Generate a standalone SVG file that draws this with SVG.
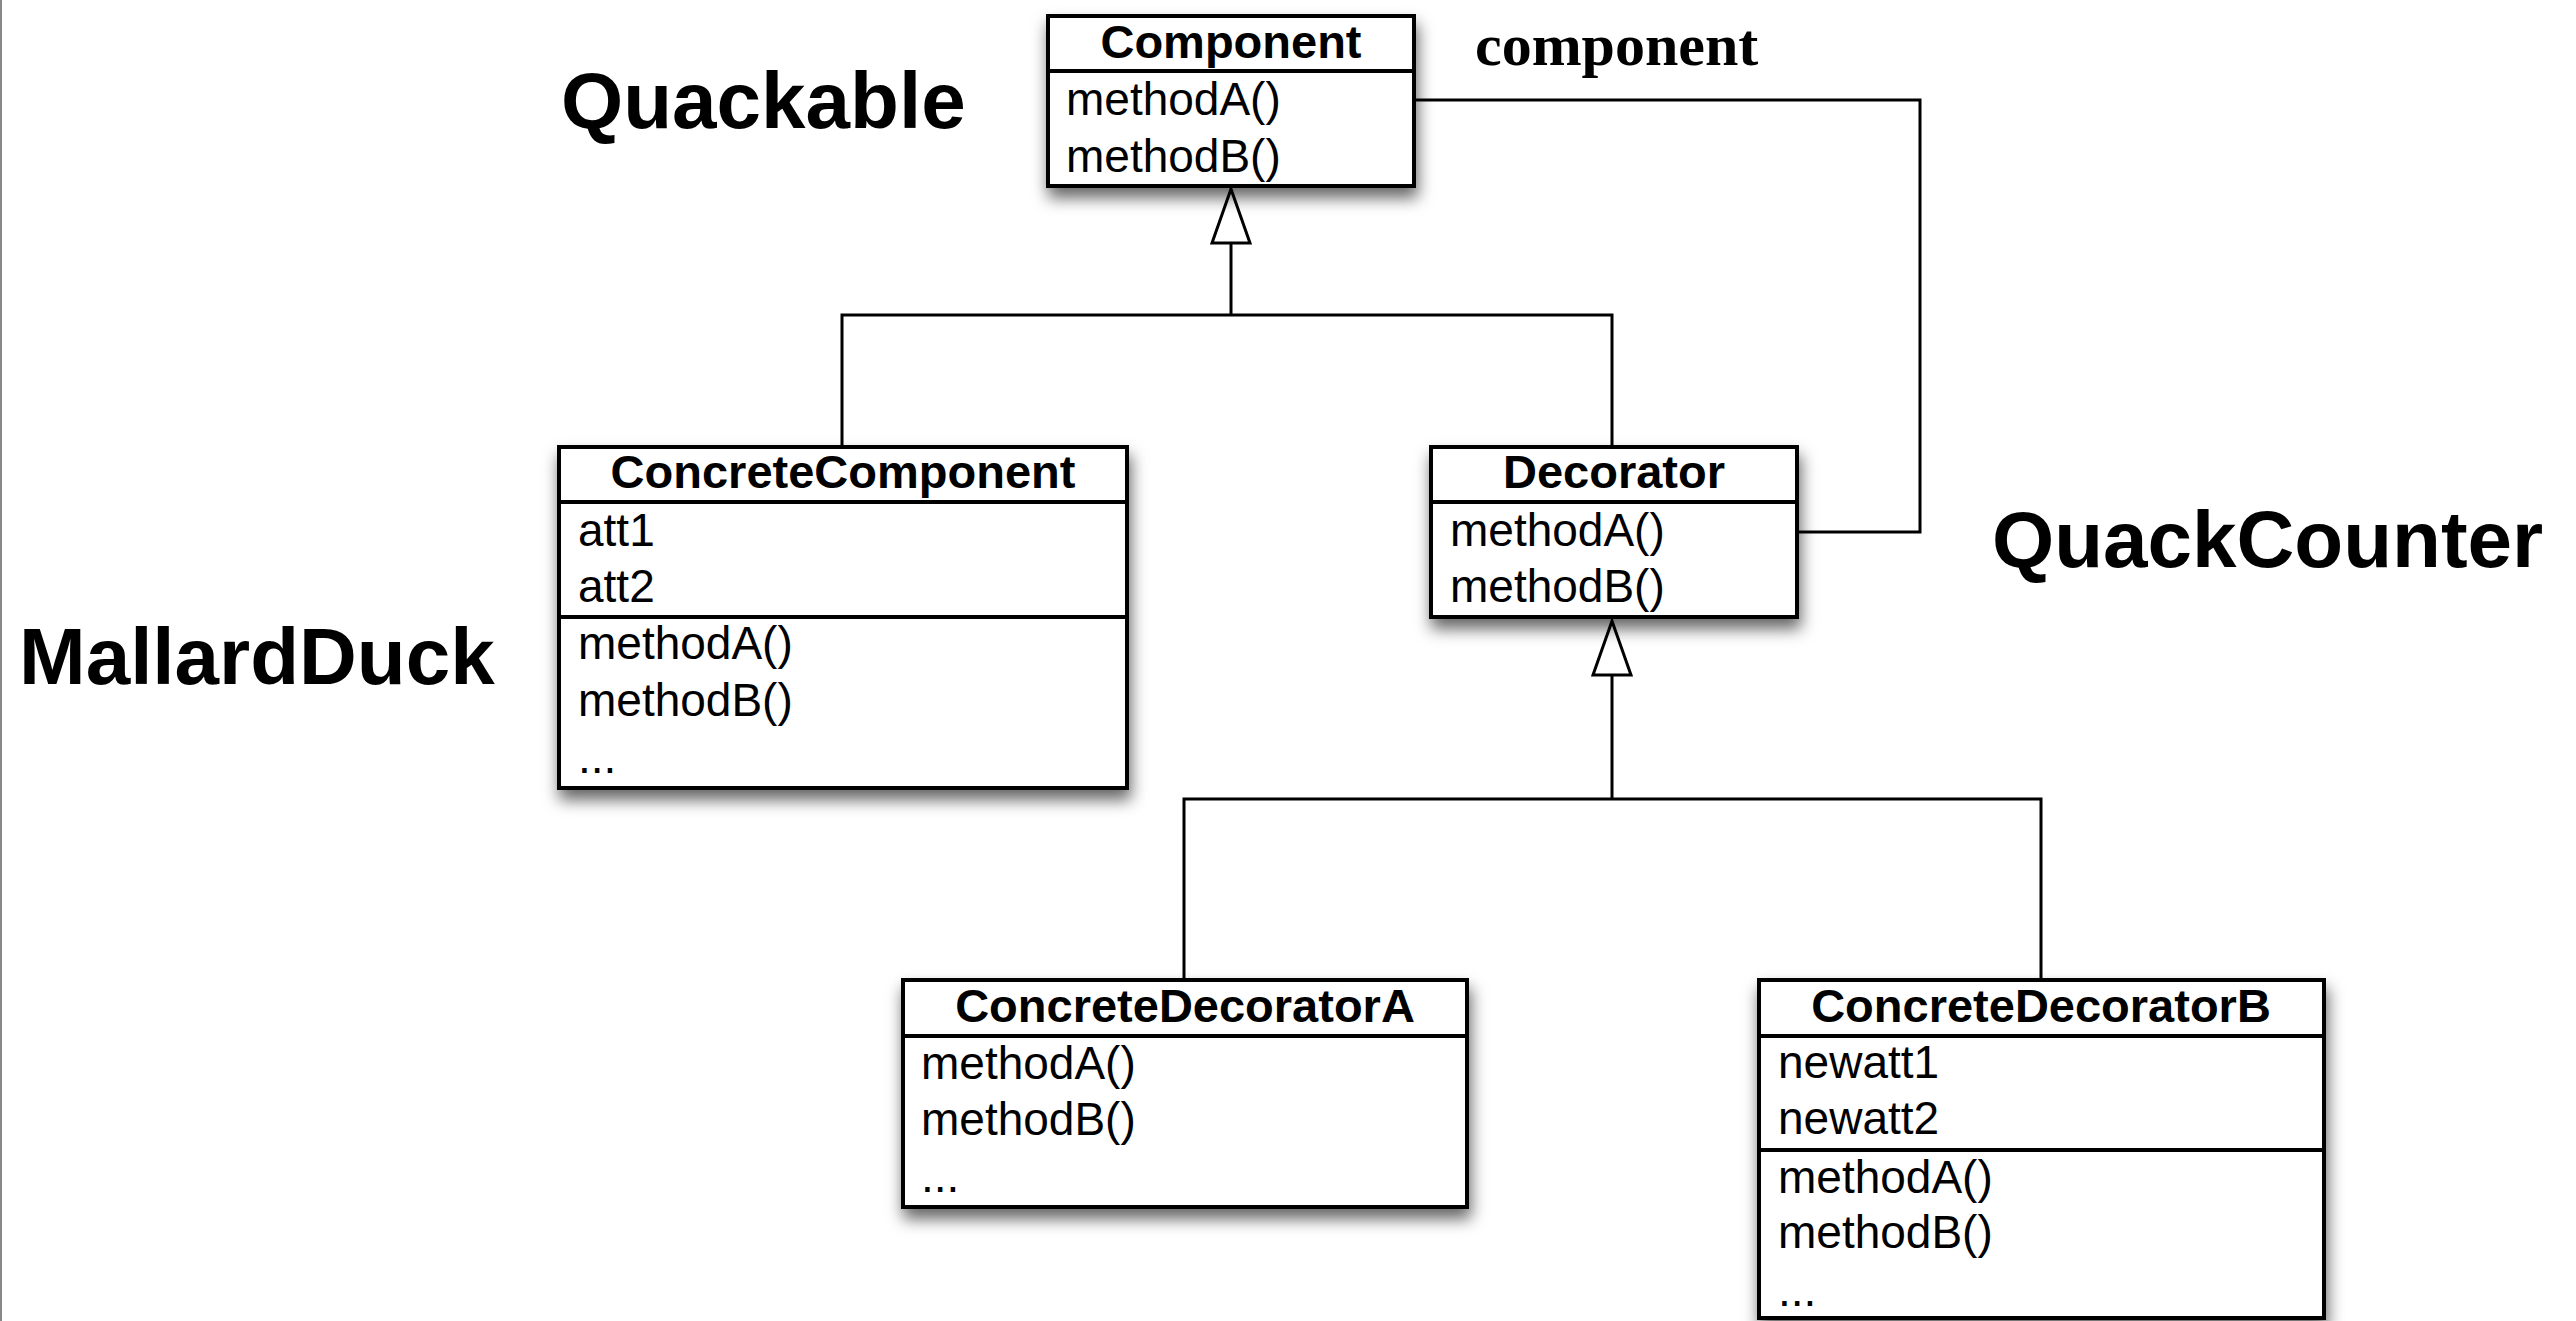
<svg xmlns="http://www.w3.org/2000/svg" width="2576" height="1321" viewBox="0 0 2576 1321">
<defs>
<filter id="sh" x="-10%" y="-10%" width="125%" height="135%">
<feDropShadow dx="2" dy="10" stdDeviation="8" flood-color="#000" flood-opacity="0.6"/>
</filter>
</defs>
<style>
.box{fill:#fff;stroke:#000;stroke-width:4}
.div{stroke:#000;stroke-width:4}
.ttl{font-family:"Liberation Sans",Arial,sans-serif;font-weight:bold;font-size:47px;text-anchor:middle}
.txt{font-family:"Liberation Sans",Arial,sans-serif;font-size:46px}
.big{font-family:"Liberation Sans",Arial,sans-serif;font-weight:bold;font-size:80px}
.ser{font-family:"Liberation Serif","Times New Roman",serif;font-weight:bold;font-size:60px}
.ln{fill:none;stroke:#000;stroke-width:3}
.tri{fill:#fff;stroke:#000;stroke-width:3}
</style>
<rect x="0" y="0" width="2576" height="1321" fill="#fff"/>
<line x1="1" y1="0" x2="1" y2="1321" stroke="#888" stroke-width="2"/>

<g id="connectors">
<polyline class="ln" points="842,446 842,315 1612,315 1612,446"/>
<line class="ln" x1="1231" y1="243" x2="1231" y2="315"/>
<polygon class="tri" points="1231,189 1212,243 1250,243"/>
<polyline class="ln" points="1184,979 1184,799 2041,799 2041,979"/>
<line class="ln" x1="1612" y1="675" x2="1612" y2="799"/>
<polygon class="tri" points="1612,621 1593,675 1631,675"/>
<polyline class="ln" points="1414,100 1920,100 1920,532 1797,532"/>
</g>

<g id="Component">
<rect class="box" x="1048" y="16" width="366" height="170" filter="url(#sh)"/>
<line class="div" x1="1048" y1="71" x2="1414" y2="71"/>
<text class="ttl" x="1231" y="58">Component</text>
<text class="txt" x="1066" y="115">methodA()</text>
<text class="txt" x="1066" y="172">methodB()</text>
</g>

<g id="ConcreteComponent">
<rect class="box" x="559" y="447" width="568" height="341" filter="url(#sh)"/>
<line class="div" x1="559" y1="502" x2="1127" y2="502"/>
<line class="div" x1="559" y1="617" x2="1127" y2="617"/>
<text class="ttl" x="843" y="488">ConcreteComponent</text>
<text class="txt" x="578" y="546">att1</text>
<text class="txt" x="578" y="602">att2</text>
<text class="txt" x="578" y="659">methodA()</text>
<text class="txt" x="578" y="716">methodB()</text>
<text class="txt" x="578" y="773">...</text>
</g>

<g id="Decorator">
<rect class="box" x="1431" y="447" width="366" height="170" filter="url(#sh)"/>
<line class="div" x1="1431" y1="502" x2="1797" y2="502"/>
<text class="ttl" x="1614" y="488">Decorator</text>
<text class="txt" x="1450" y="546">methodA()</text>
<text class="txt" x="1450" y="602">methodB()</text>
</g>

<g id="ConcreteDecoratorA">
<rect class="box" x="903" y="980" width="564" height="227" filter="url(#sh)"/>
<line class="div" x1="903" y1="1036" x2="1467" y2="1036"/>
<text class="ttl" x="1185" y="1022">ConcreteDecoratorA</text>
<text class="txt" x="921" y="1079">methodA()</text>
<text class="txt" x="921" y="1135">methodB()</text>
<text class="txt" x="921" y="1192">...</text>
</g>

<g id="ConcreteDecoratorB">
<rect class="box" x="1759" y="980" width="565" height="338" filter="url(#sh)"/>
<line class="div" x1="1759" y1="1036" x2="2324" y2="1036"/>
<line class="div" x1="1759" y1="1150" x2="2324" y2="1150"/>
<text class="ttl" x="2041" y="1022">ConcreteDecoratorB</text>
<text class="txt" x="1778" y="1078">newatt1</text>
<text class="txt" x="1778" y="1134">newatt2</text>
<text class="txt" x="1778" y="1193">methodA()</text>
<text class="txt" x="1778" y="1248">methodB()</text>
<text class="txt" x="1778" y="1306">...</text>
</g>

<g id="labels">
<text class="ser" x="1475" y="65">component</text>
<text class="big" x="561" y="128">Quackable</text>
<text class="big" x="19" y="684">MallardDuck</text>
<text class="big" x="1992" y="567">QuackCounter</text>
</g>
</svg>
